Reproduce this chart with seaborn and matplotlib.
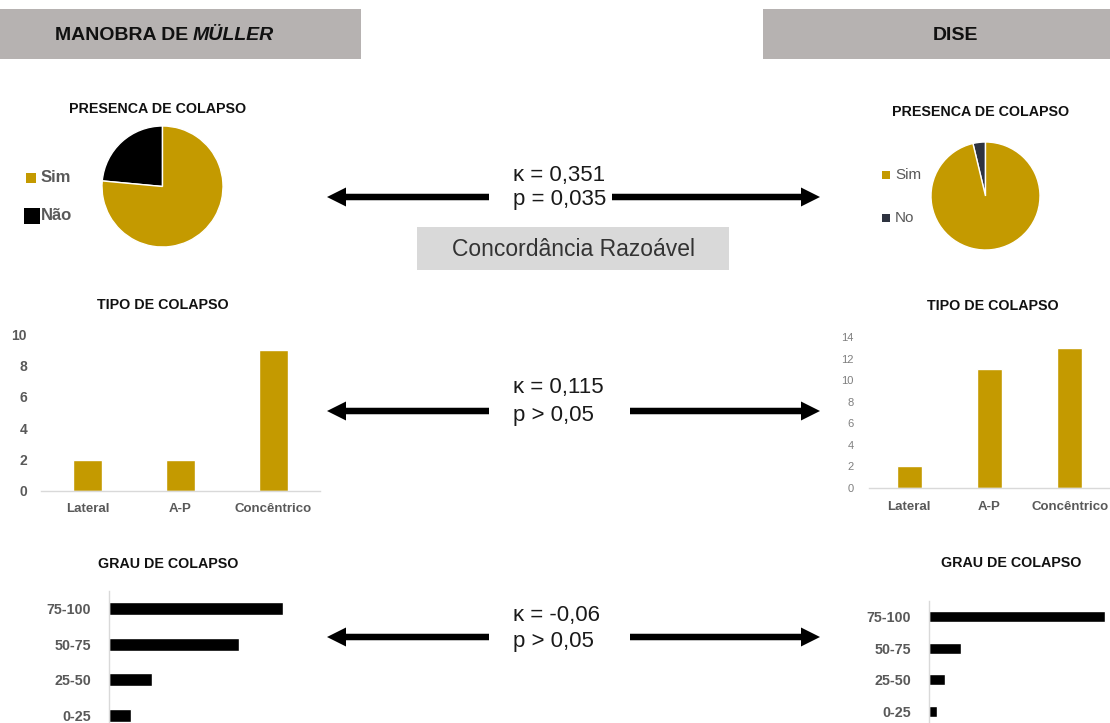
import matplotlib
matplotlib.use("Agg")
import matplotlib.pyplot as plt
from matplotlib import font_manager
from matplotlib.patches import FancyArrow, Rectangle
import seaborn as sns

# ---- data -------------------------------------------------------------
presenca_labels_mm = ["Sim", "Não"]
presenca_mm = [13, 4]
presenca_labels_dise = ["Sim", "No"]
presenca_dise = [26, 1]

tipo_cats = ["Lateral", "A-P", "Concêntrico"]
tipo_mm = [2, 2, 9]
tipo_dise = [2, 11, 13]

grau_cats = ["75-100", "50-75", "25-50", "0-25"]
grau_mm = [8, 6, 2, 1]
grau_dise = [22, 4, 2, 1]

kappa_txt = ["κ = 0,351", "κ = 0,115", "κ = -0,06"]
p_txt = ["p = 0,035", "p > 0,05", "p > 0,05"]
concordancia_txt = "Concordância Razoável"

# ---- style ------------------------------------------------------------
GOLD = "#C49A00"
DARK_NO = "#2E3340"
GREY_TXT = "#595959"
AXIS_LINE = "#D9D9D9"
HEADER = "#B6B2B1"

sns.set_theme(style="white")
available = {f.name for f in font_manager.fontManager.ttflist}
NARROW = "Liberation Sans Narrow" if "Liberation Sans Narrow" in available else "Liberation Sans"
plt.rcParams["font.family"] = ["Liberation Sans", "DejaVu Sans"]

W, H = 1110, 723
fig = plt.figure(figsize=(W / 100, H / 100), dpi=100)
fig.patch.set_facecolor("white")


def box(x0, y0, x1, y1):
    """Figure-fraction rectangle from pixel corners (origin top-left)."""
    return [x0 / W, 1 - y1 / H, (x1 - x0) / W, (y1 - y0) / H]


# overlay in pixel units for headers, arrows and free text
ov = fig.add_axes([0, 0, 1, 1], zorder=0)
ov.set_xlim(0, W)
ov.set_ylim(H, 0)
ov.axis("off")

ov.add_patch(Rectangle((0, 9), 361, 50, color=HEADER, lw=0))
ov.add_patch(Rectangle((763, 9), W - 763, 50, color=HEADER, lw=0))
ov.text(188, 35, "MANOBRA DE", ha="right", va="center", fontsize=14,
        fontweight="bold", family=NARROW, color="#111111")
ov.text(193, 35, "MÜLLER", ha="left", va="center", fontsize=14,
        fontweight="bold", fontstyle="italic", family=NARROW, color="#111111")
ov.text(955, 35, "DISE", ha="center", va="center", fontsize=14,
        fontweight="bold", family=NARROW, color="#111111")

# section titles
titles = [
    (158, 109, "PRESENCA DE COLAPSO"), (981, 112, "PRESENCA DE COLAPSO"),
    (163, 305, "TIPO DE COLAPSO"), (993, 306, "TIPO DE COLAPSO"),
    (168, 564, "GRAU DE COLAPSO"), (1011, 563, "GRAU DE COLAPSO"),
]
for x, y, t in titles:
    ov.text(x, y, t, ha="center", va="center", fontsize=10.3, fontweight="bold",
            family=NARROW, color="#111111")

# double arrows with kappa statistics
rows = [(197, 176, 200, 612), (411, 388, 415, 630), (637, 615, 642, 630)]
for (ya, yk, yp, xr), k, p in zip(rows, kappa_txt, p_txt):
    ov.add_patch(FancyArrow(489, ya, 327 - 489, 0, width=6.5, head_width=19,
                            head_length=19, length_includes_head=True,
                            color="black", lw=0))
    ov.add_patch(FancyArrow(xr, ya, 820 - xr, 0, width=6.5, head_width=19,
                            head_length=19, length_includes_head=True,
                            color="black", lw=0))
    ov.text(513, yk, k, ha="left", va="center", fontsize=16, color="#1A1A1A")
    ov.text(513, yp, p, ha="left", va="center", fontsize=16, color="#1A1A1A")

ov.add_patch(Rectangle((417, 227), 312, 43, color="#D9D9D9", lw=0))
ov.text(573, 249, concordancia_txt, ha="center", va="center", fontsize=16.5,
        color="#333333")

# pie legends
ov.scatter([31], [178], marker="s", s=50, color=GOLD, lw=0)
ov.text(41, 178, presenca_labels_mm[0], ha="left", va="center", fontsize=12,
        fontweight="bold", color=GREY_TXT)
ov.scatter([32], [216], marker="s", s=120, color="black", lw=0)
ov.text(41, 216, presenca_labels_mm[1], ha="left", va="center", fontsize=12,
        fontweight="bold", color=GREY_TXT)
ov.scatter([886], [175], marker="s", s=35, color=GOLD, lw=0)
ov.text(895, 175, presenca_labels_dise[0], ha="left", va="center", fontsize=11,
        color=GREY_TXT)
ov.scatter([886], [218], marker="s", s=35, color=DARK_NO, lw=0)
ov.text(895, 218, presenca_labels_dise[1], ha="left", va="center", fontsize=11,
        color=GREY_TXT)


# ---- pies -------------------------------------------------------------
def pie(rect, values, colors):
    ax = fig.add_axes(rect)
    ax.pie(values[::-1], colors=colors[::-1], startangle=90, counterclock=True,
           radius=1, wedgeprops=dict(edgecolor="white", linewidth=1))
    ax.set_xlim(-1, 1)
    ax.set_ylim(-1, 1)
    ax.set_aspect("auto")
    ax.axis("off")


pie(box(102, 126, 223, 247), presenca_mm, [GOLD, "black"])
pie(box(931, 142, 1040, 250), presenca_dise, [GOLD, DARK_NO])


# ---- vertical bar charts ---------------------------------------------
def vbar(rect, values, ymax, step, tick_kw, xlab_kw, ypad):
    ax = fig.add_axes(rect)
    ax.patch.set_alpha(0)
    sns.barplot(x=tipo_cats, y=values, color=GOLD, width=0.31, saturation=1,
                ax=ax)
    ax.set_ylim(0, ymax)
    ax.set_yticks(range(0, ymax + 1, step))
    for s in ("top", "right", "left"):
        ax.spines[s].set_visible(False)
    ax.spines["bottom"].set_color(AXIS_LINE)
    ax.spines["bottom"].set_linewidth(1)
    ax.tick_params(axis="both", length=0)
    ax.tick_params(axis="y", pad=ypad)
    ax.tick_params(axis="x", pad=9)
    for lab in ax.get_yticklabels():
        lab.set(**tick_kw)
    for lab in ax.get_xticklabels():
        lab.set(**xlab_kw)
    ax.set_xlabel("")
    ax.set_ylabel("")
    return ax


vbar(box(41, 334, 320, 491), tipo_mm, 10, 2,
     dict(fontsize=10, fontweight="bold", color=GREY_TXT, family=NARROW),
     dict(fontsize=9.5, color=GREY_TXT, family=NARROW, fontweight="bold"), 10)
vbar(box(869, 337, 1110, 488), tipo_dise, 14, 2,
     dict(fontsize=8, color="#7F7F7F"),
     dict(fontsize=9.5, color=GREY_TXT, family=NARROW, fontweight="bold"), 11)


# ---- horizontal bar charts -------------------------------------------
def hbar(rect, values, xmax, height):
    ax = fig.add_axes(rect)
    ax.patch.set_alpha(0)
    sns.barplot(x=values, y=grau_cats, orient="h", color="black", width=height,
                saturation=1, ax=ax)
    ax.set_xlim(0, xmax)
    for s in ("top", "right", "bottom"):
        ax.spines[s].set_visible(False)
    ax.spines["left"].set_color(AXIS_LINE)
    ax.spines["left"].set_linewidth(1)
    ax.set_xticks([])
    ax.tick_params(axis="y", length=0, pad=13)
    for lab in ax.get_yticklabels():
        lab.set(fontsize=10.3, fontweight="bold", color=GREY_TXT, family=NARROW)
    ax.set_xlabel("")
    ax.set_ylabel("")
    return ax


hbar(box(109, 591, 309, 733), grau_mm, 200 / 21.7, 0.36)
hbar(box(929, 601, 1110, 727), grau_dise, 181 / 8.0, 0.35)

fig.savefig("out.png", dpi=100, facecolor="white")
